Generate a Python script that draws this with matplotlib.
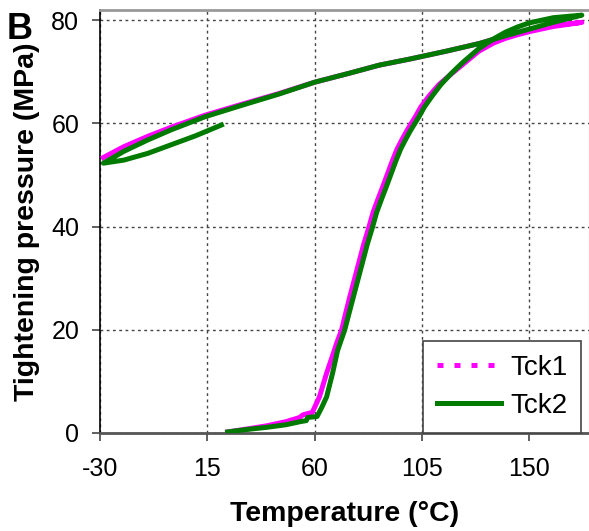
import matplotlib
matplotlib.use("Agg")
import matplotlib.pyplot as plt
from matplotlib.lines import Line2D

plt.rcParams["font.family"] = ["Liberation Sans", "DejaVu Sans"]
plt.rcParams["axes.unicode_minus"] = False

# -------------------------------------------------
# Data
# -------------------------------------------------

# Tck2 heating branch
tck2_heat_t = [23.5, 32, 40, 48, 54, 56.5, 57, 61, 63, 65, 67.5, 69.6, 72.6, 74, 76, 78, 80,
               82, 84.3, 86, 88, 90, 92, 94, 96, 98, 100, 103.7, 106, 109.2, 113, 117.5,
               122, 128.8, 135, 140, 145, 150, 160, 172]
tck2_heat_p = [0.2, 0.7, 1.1, 1.6, 2.2, 2.4, 3.0, 3.2, 5.0, 7.0, 11.6, 16.0, 20.0, 22.5, 26.0,
               29.5, 33.0, 36.5, 40.0, 42.8, 45.3, 47.7, 50.2, 52.7, 55.0, 56.8, 58.5, 61.3,
               63.2, 65.3, 67.6, 69.8, 71.8, 74.5, 76.4, 77.7, 78.7, 79.5, 80.5, 81.0]

# Tck2 cooling branch, then reheating back to room temperature
tck2_cool_t = [172, 160, 150, 140, 129, 115, 100, 87, 75, 60, 45, 30, 14, 0, -10, -20, -28.6,
               -20, -10, 0, 10, 20.9]
tck2_cool_p = [81.0, 79.6, 78.3, 77.0, 75.5, 74.0, 72.5, 71.3, 69.8, 68.0, 65.7, 63.6, 61.3,
               58.8, 56.8, 54.6, 52.3,
               52.9, 54.2, 55.9, 57.6, 59.7]

# Tck1 heating branch
tck1_heat_t = [23.5, 32, 40, 48, 53.7, 55, 59, 62, 65, 67.5, 69.2, 71.3, 72.6, 74.5, 76.5,
               78.5, 80.5, 82.8, 84.5, 86.5, 88.5, 90.5, 92.5, 94.5, 96.5, 98.5, 102.2,
               104.5, 107.9, 112, 117, 122, 128.8, 135, 140, 145, 150, 160, 172]
tck1_heat_p = [0.2, 0.8, 1.4, 2.2, 3.0, 3.5, 4.0, 7.0, 11.6, 15.0, 17.4, 20.0, 22.5, 26.0,
               29.5, 33.0, 36.5, 40.0, 42.8, 45.3, 47.7, 50.2, 52.7, 55.0, 56.8, 58.5, 61.3,
               63.2, 65.3, 67.5, 69.5, 71.4, 74.0, 75.6, 76.5, 77.2, 77.8, 78.8, 79.6]

# Tck1 cooling branch
tck1_cool_t = [172, 160, 150, 140, 129, 115, 100, 87, 75, 60, 45, 30, 14, 0, -10, -20, -28.6]
tck1_cool_p = [79.6, 79.0, 78.2, 77.0, 75.5, 74.0, 72.5, 71.3, 69.8, 68.0, 65.8, 63.8, 61.6,
               59.3, 57.5, 55.5, 53.4]

x_ticks = [-30, 15, 60, 105, 150]
y_ticks = [0, 20, 40, 60, 80]

# -------------------------------------------------
# Figure
# -------------------------------------------------

magenta = "#ff00ff"
green = "#007a00"

fig = plt.figure(figsize=(5.89, 5.31), dpi=100)
ax = fig.add_axes([0.1698, 0.1846, 0.8302, 0.7966])

ax.plot(tck1_heat_t + tck1_cool_t, tck1_heat_p + tck1_cool_p,
        color=magenta, lw=3.6, solid_joinstyle="round", zorder=3)
ax.plot(tck2_heat_t + tck2_cool_t, tck2_heat_p + tck2_cool_p,
        color=green, lw=3.6, solid_joinstyle="round", zorder=4)

ax.set_xlim(-30, 175)
ax.set_ylim(0, 82)
ax.set_xticks(x_ticks)
ax.set_yticks(y_ticks)

ax.grid(True, color="#444444", linestyle=(0, (2, 2.5)), linewidth=1.0)
ax.set_axisbelow(True)

ax.tick_params(axis="both", direction="out", length=6, width=1.2,
               color="#444444", labelsize=18)
ax.tick_params(axis="x", pad=11)
ax.tick_params(axis="y", pad=9)

ax.spines["left"].set_color("black")
ax.spines["left"].set_linewidth(1.2)
ax.spines["bottom"].set_color("#555555")
ax.spines["bottom"].set_linewidth(2.0)
ax.spines["top"].set_color("#999999")
ax.spines["top"].set_linewidth(2.0)
ax.spines["right"].set_color("#999999")

ax.set_xlabel("Temperature (°C)", fontsize=20.5, fontweight="bold", labelpad=15)
ax.set_ylabel("Tightening pressure (MPa)", fontsize=20.5, fontweight="bold", labelpad=8)

handles = [
    Line2D([], [], color=magenta, lw=3.6, linestyle=(0, (1.2, 2.2))),
    Line2D([], [], color=green, lw=3.6),
]
leg = ax.legend(handles, ["Tck1", "Tck2"], loc="lower left",
                bbox_to_anchor=(0.66, 0.0), borderaxespad=0, fontsize=20,
                handlelength=2.3, handletextpad=0.35, fancybox=False,
                framealpha=1, edgecolor="#444444", borderpad=0.5,
                labelspacing=0.45)
leg.get_frame().set_linewidth(1.2)
leg.set_zorder(6)

fig.text(0.012, 0.978, "B", fontsize=26, fontweight="bold", va="top", ha="left")

fig.savefig("out.png", dpi=100)
